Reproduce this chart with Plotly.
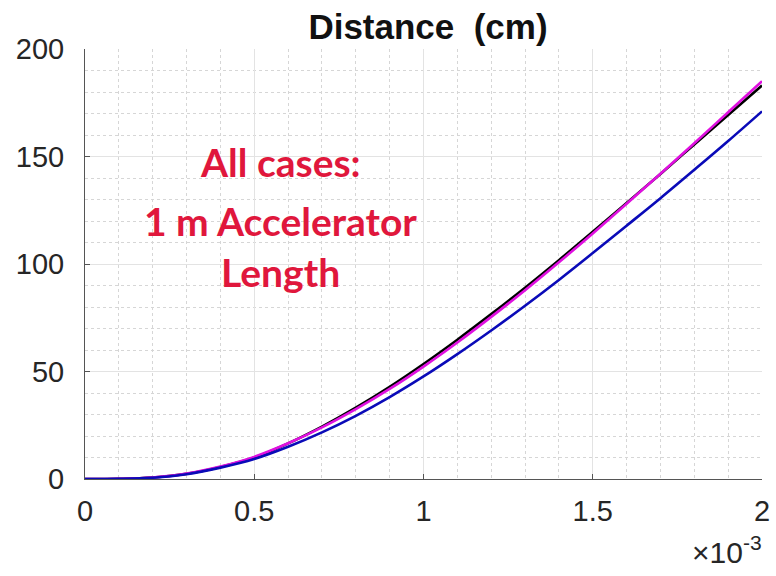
import plotly.graph_objects as go

# time in units of 1e-3 s
t = [0.0, 0.1, 0.2, 0.3, 0.4, 0.5, 0.6, 0.7, 0.8, 0.9, 1.0,
     1.1, 1.2, 1.3, 1.4, 1.5, 1.6, 1.7, 1.8, 1.9, 2.0]

dist_black = [0, 0.1, 0.7, 2.4, 5.6, 10.0, 16.6, 24.4, 33.2, 42.9, 53.5,
              64.8, 76.7, 89.0, 101.8, 115.0, 128.4, 141.9, 155.6, 169.3, 183.0]
dist_magenta = [0, 0.1, 0.7, 2.5, 5.8, 10.3, 16.6, 24.0, 32.5, 41.9, 52.3,
                63.5, 75.4, 87.8, 100.8, 114.2, 128.0, 142.0, 156.2, 170.6, 185.0]
dist_blue = [0, 0.1, 0.6, 2.2, 5.3, 9.3, 15.0, 21.7, 29.4, 38.1, 47.7,
             58.1, 69.1, 80.6, 92.6, 105.1, 117.8, 130.6, 143.8, 157.2, 171.0]

x_ticks = [0, 0.5, 1, 1.5, 2]
x_tick_labels = ["0", "0.5", "1", "1.5", "2"]
y_ticks = [0, 50, 100, 150, 200]

title_text = "Distance  (cm)"
note_lines = ["All cases:", "1 m Accelerator", "Length"]
exponent_text = "×10<sup>-3</sup>"

fig = go.Figure()
for ys, col in [(dist_black, "#000000"), (dist_magenta, "#e010e0"), (dist_blue, "#0a0ab8")]:
    fig.add_trace(go.Scatter(x=t, y=ys, mode="lines", line=dict(color=col, width=2.6, shape="spline"),
                             showlegend=False, hoverinfo="skip"))

axis_common = dict(
    showgrid=True, gridcolor="#e3e3e3", gridwidth=1,
    ticks="inside", ticklen=5, tickcolor="#555555",
    showline=True, linecolor="#555555", linewidth=1,
    tickfont=dict(family="Liberation Sans, Arial", size=29, color="#262626"),
    zeroline=False, automargin=False,
    minor=dict(showgrid=True, gridcolor="#d6d6d6", griddash="dot", gridwidth=1, ticks=""),
)

fig.update_xaxes(range=[0, 2], tickvals=x_ticks, ticktext=x_tick_labels,
                 minor_dtick=0.1, ticklabelstandoff=6, **axis_common)
fig.update_yaxes(range=[0, 200], tickvals=y_ticks, minor_dtick=10,
                 ticklabelstandoff=14, **axis_common)

fig.update_layout(
    width=776, height=576,
    margin=dict(l=85, r=14, t=49, b=97, autoexpand=False),
    paper_bgcolor="white", plot_bgcolor="white",
    title=dict(text="<b>" + title_text + "</b>", x=428 / 776, xanchor="center",
               y=1 - 27 / 576, yanchor="middle",
               font=dict(family="Liberation Sans, Arial", size=35, color="#111111")),
)

note_y_px = [162, 221, 272]
for line, ypx in zip(note_lines, note_y_px):
    fig.add_annotation(text="<b>" + line + "</b>", xref="paper", yref="paper",
                       x=(280 - 85) / 677, y=(479 - ypx) / 430, xanchor="center", yanchor="middle",
                       showarrow=False,
                       font=dict(family="Lato, Open Sans", size=39, color="#e0173c"))

fig.add_annotation(text=exponent_text, xref="paper", yref="paper",
                   x=(764 - 85) / 677, y=(479 - 550) / 430, xanchor="right", yanchor="middle",
                   showarrow=False,
                   font=dict(family="Liberation Sans, Arial", size=30, color="#262626"))

fig.write_html("out.html")
